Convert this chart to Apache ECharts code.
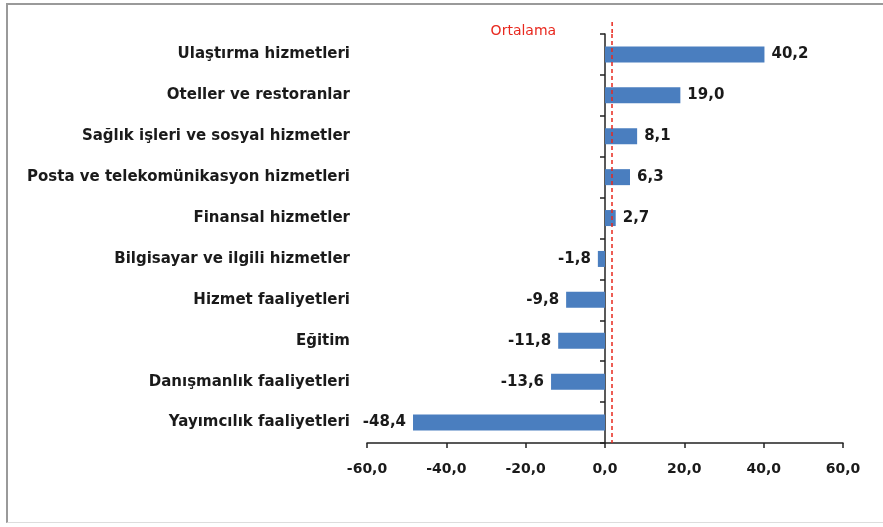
<!DOCTYPE html>
<html><head><meta charset="utf-8">
<script src="https://cdn.jsdelivr.net/npm/echarts@6/dist/echarts.min.js"></script>
<style>
html,body{margin:0;padding:0;background:#fff;}
#frame{position:absolute;left:6px;top:3px;width:880px;height:520px;border-left:2px solid #9a9a9a;border-top:2px solid #9a9a9a;border-bottom:1px solid #ddd;box-sizing:border-box;}
#c{position:absolute;left:0;top:0;width:883px;height:527px;}
</style></head>
<body>
<div id="frame"></div>
<div id="c"></div>
<script>
const categories = ["Ulaştırma hizmetleri","Oteller ve restoranlar","Sağlık işleri ve sosyal hizmetler","Posta ve telekomünikasyon hizmetleri","Finansal hizmetler","Bilgisayar ve ilgili hizmetler","Hizmet faaliyetleri","Eğitim","Danışmanlık faaliyetleri","Yayımcılık faaliyetleri"];
const values = [40.2, 19.0, 8.1, 6.3, 2.7, -1.8, -9.8, -11.8, -13.6, -48.4];
const averageValue = 1.8;
const averageLabel = "Ortalama";
const xTicks = [-60, -40, -20, 0, 20, 40, 60];

const fmt = v => v.toFixed(1).replace('.', ',');
const font = "'DejaVu Sans', sans-serif";
const chart = echarts.init(document.getElementById('c'));
chart.setOption({
  animation: false,
  grid: {left: 367, right: 40, top: 34, bottom: 84},
  xAxis: {
    type: 'value', min: xTicks[0], max: xTicks[xTicks.length-1], interval: 20,
    splitLine: {show: false},
    axisLine: {show: true, onZero: false, lineStyle: {color: '#222', width: 1.5}},
    axisTick: {show: true, length: 5, lineStyle: {color: '#222', width: 1.5}},
    axisLabel: {formatter: v => fmt(v), color: '#1a1a1a', fontFamily: font, fontWeight: 'bold', fontSize: 14, margin: 19}
  },
  yAxis: [{
    type: 'category', data: categories, inverse: true, position: 'left',
    axisLine: {show: false, onZero: false}, axisTick: {show: false},
    axisLabel: {color: '#1a1a1a', fontFamily: font, fontWeight: 'bold', fontSize: 15, margin: 17}
  }, {
    type: 'category', data: categories, inverse: true, position: 'right',
    axisLine: {show: true, onZero: true, lineStyle: {color: '#222', width: 1.5}},
    axisTick: {show: true, inside: true, length: 5, lineStyle: {color: '#222', width: 1.5}},
    axisLabel: {show: false}
  }],
  series: [{
    type: 'bar', yAxisIndex: 0, barWidth: 16,
    itemStyle: {color: '#4a7ebf'},
    data: values.map(v => ({value: v, label: {position: v >= 0 ? 'right' : 'left'}})),
    label: {show: true, formatter: p => fmt(p.value), color: '#1a1a1a', fontFamily: font, fontWeight: 'bold', fontSize: 15, distance: 7},
    markLine: {
      symbol: 'none', silent: true,
      lineStyle: {color: '#e8281e', type: [4, 3], width: 1.5},
      label: {show: false},
      data: [{xAxis: averageValue}]
    }
  }]
});
const ax = chart.convertToPixel({xAxisIndex: 0}, averageValue);
chart.setOption({graphic: [
  {type: 'line', shape: {x1: ax, y1: 22, x2: ax, y2: 34}, style: {stroke: '#e8281e', lineWidth: 1.5, lineDash: [4, 3]}},
  {type: 'text', x: ax - 56, y: 31, style: {text: averageLabel, fill: '#e8281e', font: "14px " + font, textAlign: 'right', textVerticalAlign: 'middle'}}
]});
</script>
</body></html>
